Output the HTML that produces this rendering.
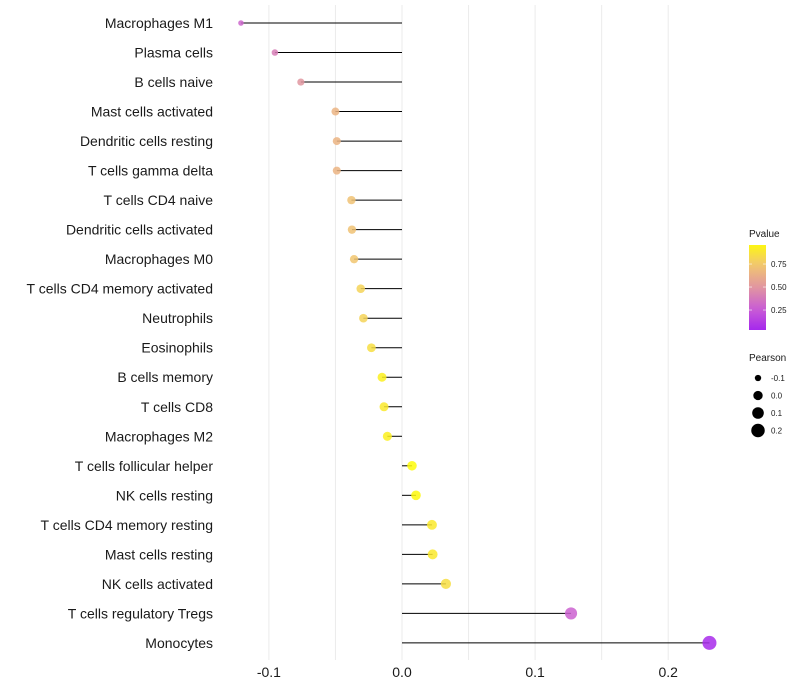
<!DOCTYPE html>
<html><head><meta charset="utf-8"><style>
html,body{margin:0;padding:0;background:#fff;}
svg{display:block;font-family:"Liberation Sans",Arial,sans-serif;}
</style></head><body>
<svg id="chart" width="800" height="700"></svg>
<script>
const categories=["Macrophages M1","Plasma cells","B cells naive","Mast cells activated","Dendritic cells resting","T cells gamma delta","T cells CD4 naive","Dendritic cells activated","Macrophages M0","T cells CD4 memory activated","Neutrophils","Eosinophils","B cells memory","T cells CD8","Macrophages M2","T cells follicular helper","NK cells resting","T cells CD4 memory resting","Mast cells resting","NK cells activated","T cells regulatory  Tregs","Monocytes"];
const pearson=[-0.121,-0.0955,-0.076,-0.050,-0.049,-0.049,-0.038,-0.0376,-0.036,-0.031,-0.029,-0.023,-0.015,-0.0135,-0.011,0.0075,0.0105,0.0225,0.023,0.033,0.127,0.231];
const pvalue=[0.3,0.4,0.5,0.65,0.65,0.65,0.72,0.72,0.74,0.8,0.8,0.85,0.93,0.9,0.93,0.98,0.97,0.9,0.9,0.85,0.28,0.05];
const xTicks=[-0.1,0.0,0.1,0.2];
const xTickLabels=["-0.1","0.0","0.1","0.2"];
const xMinor=[-0.05,0.05,0.15];
const pTicks=[0.25,0.5,0.75];
const pTickLabels=["0.25","0.50","0.75"];
const sizeVals=[-0.1,0.0,0.1,0.2];
const sizeLabels=["-0.1","0.0","0.1","0.2"];

const NS="http://www.w3.org/2000/svg";
const svg=document.getElementById('chart');
function mk(t,a,p){const e=document.createElementNS(NS,t);for(const k in a)e.setAttribute(k,a[k]);(p||svg).appendChild(e);return e;}
const x=v=>402+v*1331;
const y=i=>23+i*29.52;
const pY=v=>330-(v-0.033)/(0.957-0.033)*85;
const stops=[[0,[160,32,240]],[0.25,[200,90,215]],[0.5,[225,150,160]],[0.75,[242,200,110]],[1,[255,255,0]]];
function col(v){v=Math.max(0,Math.min(1,v));for(let i=1;i<stops.length;i++){if(v<=stops[i][0]){const a=stops[i-1],b=stops[i],t=(v-a[0])/(b[0]-a[0]);const c=a[1].map((q,j)=>Math.round(q+(b[1][j]-q)*t));return `rgb(${c})`;}}return 'rgb(255,255,0)';}
const rad=p=>Math.sqrt(Math.max(3,21.9+p*118));

const grid=mk('g',{});
xTicks.concat(xMinor).forEach(v=>{mk('line',{x1:x(v),x2:x(v),y1:5,y2:660,stroke:'#ebebeb','stroke-width':1},grid);});

categories.forEach((c,i)=>{
 const g=mk('g',{});
 
 
 mk('line',{x1:x(0),x2:x(pearson[i]),y1:y(i),y2:y(i),stroke:'#000','stroke-width':1},g);
 const cc=mk('circle',{cx:x(pearson[i]),cy:y(i),r:rad(pearson[i]),fill:col(pvalue[i]),opacity:0.85},g);
 
 
 const t=mk('text',{x:213,y:y(i)+5,'text-anchor':'end','font-size':14,fill:'#1a1a1a'});
 t.textContent=c;
 
 
});
xTicks.forEach((v,i)=>{const t=mk('text',{x:x(v),y:677,'text-anchor':'middle','font-size':14,fill:'#1a1a1a'});t.textContent=xTickLabels[i];
 
 });

// legend
const lg=mk('g',{});
const defs=mk('defs',{});const gr=mk('linearGradient',{id:'pg',x1:0,y1:1,x2:0,y2:0},defs);
for(let k=0;k<=10;k++){const v=0.033+k/10*(0.957-0.033);mk('stop',{offset:k/10,'stop-color':col(v)},gr);}
const lt=mk('text',{x:749,y:237,'font-size':10,fill:'#1a1a1a'},lg);lt.textContent='Pvalue';
mk('rect',{x:749,y:245,width:17,height:85,fill:'url(#pg)'},lg);
pTicks.forEach((v,i)=>{mk('line',{x1:749,x2:752,y1:pY(v),y2:pY(v),stroke:'#fff','stroke-opacity':0.6},lg);mk('line',{x1:763,x2:766,y1:pY(v),y2:pY(v),stroke:'#fff','stroke-opacity':0.6},lg);
 const t=mk('text',{x:771,y:pY(v)+3,'font-size':8,fill:'#1a1a1a'},lg);t.textContent=pTickLabels[i];});
const sg=mk('g',{});
const st=mk('text',{x:749,y:361,'font-size':10,fill:'#1a1a1a'},sg);st.textContent='Pearson';
sizeVals.forEach((v,i)=>{const yy=378+i*17.5;mk('circle',{cx:758,cy:yy,r:rad(v),fill:'#000'},sg);
 const t=mk('text',{x:771,y:yy+3,'font-size':8,fill:'#1a1a1a'},sg);t.textContent=sizeLabels[i];});
</script>
</body></html>
